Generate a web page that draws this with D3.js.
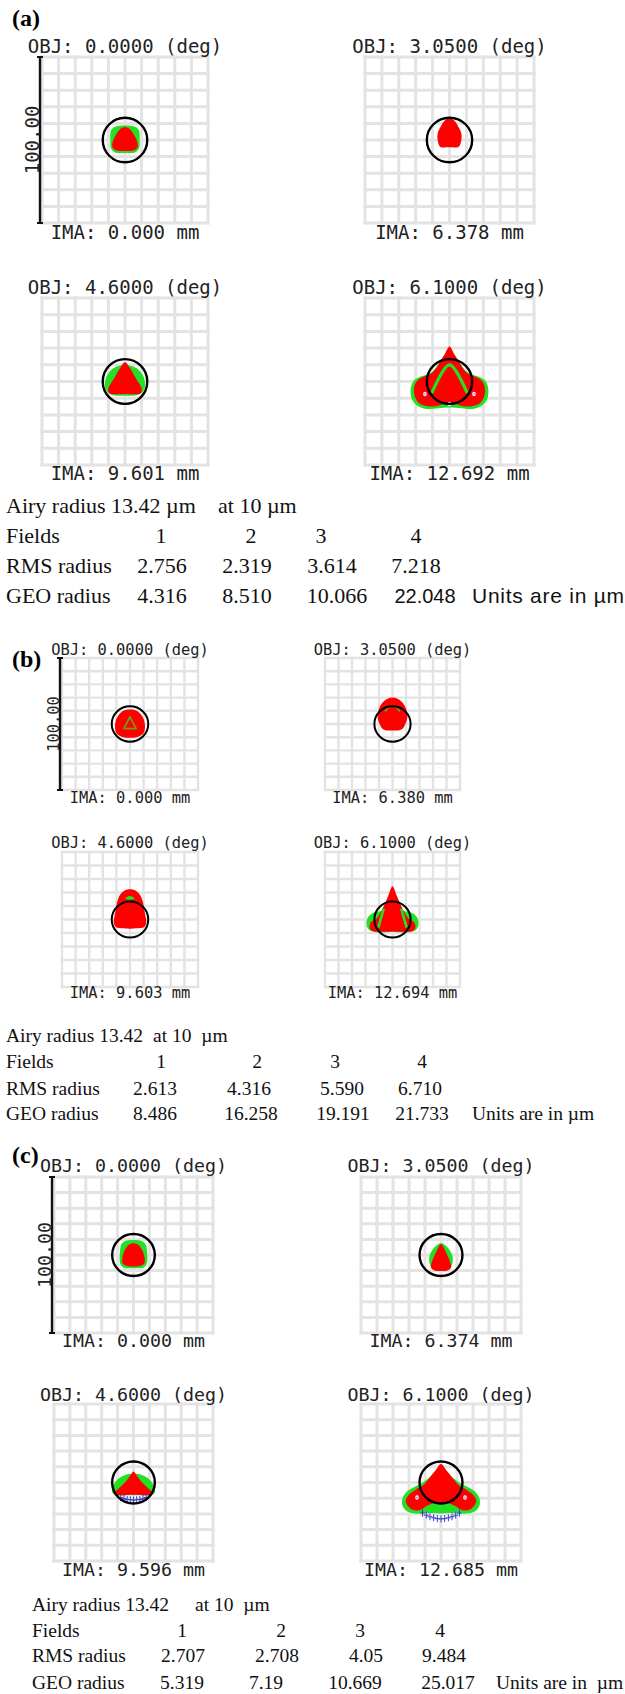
<!DOCTYPE html>
<html><head><meta charset="utf-8">
<script src="https://cdn.jsdelivr.net/npm/d3@7"></script>
<style>html,body{margin:0;padding:0;background:#fff;} svg{display:block;} text{white-space:pre;}</style>
</head><body>
<svg id="chart" width="625" height="1694"></svg>
<script>
// ---------------- data ----------------
const fieldAngles = ["0.0000", "3.0500", "4.6000", "6.1000"];
const imaA = ["0.000", "6.378", "9.601", "12.692"];
const imaB = ["0.000", "6.380", "9.603", "12.694"];
const imaC = ["0.000", "6.374", "9.596", "12.685"];
const airyRadius = 13.42;           // µm
const gridTicks = [-50, -40, -30, -20, -10, 0, 10, 20, 30, 40, 50]; // µm, 100 µm box
const scaleBarLabel = "100.00";
const fieldNumbers = ["1", "2", "3", "4"];
const rmsA = ["2.756", "2.319", "3.614", "7.218"];
const geoA = ["4.316", "8.510", "10.066", "22.048"];
const rmsB = ["2.613", "4.316", "5.590", "6.710"];
const geoB = ["8.486", "16.258", "19.191", "21.733"];
const rmsC = ["2.707", "2.708", "4.05", "9.484"];
const geoC = ["5.319", "7.19", "10.669", "25.017"];

// spot outlines, µm relative to the reference (x right, y up)
const a1Green = [[-6,8],[6,8],[8.5,5.5],[8.8,0],[8.5,-5],[6,-7.5],[0,-7.8],[-6,-7.5],[-8.5,-5],[-8.8,0],[-8.5,5.5]];
const a1Red = [[0,7.8],[3,6.5],[5.5,3],[7.5,-1.5],[7.5,-4.5],[5,-6.3],[0,-6.6],[-5,-6.3],[-7.5,-4.5],[-7.5,-1.5],[-5.5,3],[-3,6.5]];
const a2Red = [[0,13],[2.5,12],[5,8.5],[7,4],[7,0],[5.5,-4],[0,-4.4],[-5.5,-4],[-7,0],[-7,4],[-5,8.5],[-2.5,12]];
const a3Green = [[-5,9],[5,9],[10,5],[12,0],[11.5,-5],[8,-8],[0,-8.5],[-8,-8],[-11.5,-5],[-12,0],[-10,5]];
const a3Red = [[0,11.5],[3,8],[6.5,2],[10,-4],[9.5,-7],[0,-7.5],[-9.5,-7],[-10,-4],[-6.5,2],[-3,8]];
const a4Green = [[0,18],[10,6],[14,4],[18,2.5],[21.5,0],[23,-5],[22.3,-10.5],[19,-14.5],[13,-16.5],[7,-16],[0,-15.5],[-7,-16],[-13,-16.5],[-19,-14.5],[-22.3,-10.5],[-23,-5],[-21.5,0],[-18,2.5],[-14,4],[-10,6]];
const a4Red = [[0,21],[3,16],[6,11],[9,6.5],[12,4],[16,2.5],[19.5,0],[21,-4],[20.5,-9],[18,-13],[13,-14.8],[8,-14.8],[3,-13.5],[0,-14],[-3,-13.5],[-8,-14.8],[-13,-14.8],[-18,-13],[-20.5,-9],[-21,-4],[-19.5,0],[-16,2.5],[-12,4],[-9,6.5],[-6,11],[-3,16]];
const a4Inner = [[-10.5,-7],[0,10],[10.5,-7]];
const a4Whites = [[-14.5,-7.5],[14.5,-7.5],[0,-13.5]];
const b1Red = [[0,11],[5,10],[9.5,5],[11,-1],[10,-7],[5,-10],[0,-10.5],[-5,-10],[-10,-7],[-11,-1],[-9.5,5],[-5,10]];
const b1Tri = [[0,5.5],[4.5,-3.5],[-4.5,-3.5]];
const b2Red = [[0,20],[4,19],[8,15.5],[10.5,10],[11,5],[9.5,0],[7,-4],[0,-5],[-7,-4],[-9.5,0],[-11,5],[-10.5,10],[-8,15.5],[-4,19]];
const b2Arc = [[-5.5,9.5],[-3,12.5],[0,13.5],[3,12.5],[5.5,9.5]];
const b3Red = [[0,22.5],[4,21.5],[7.5,18],[9.5,13],[10.5,7],[11.5,2],[12,-2],[10.5,-5.5],[5,-6.5],[0,-6.8],[-5,-6.5],[-10.5,-5.5],[-12,-2],[-11.5,2],[-10.5,7],[-9.5,13],[-7.5,18],[-4,21.5]];
const b3Green = [[-3.5,15.5],[0,17.5],[3.5,15.5],[0,14.5]];
const b4Green = [[0,8],[10,6],[15,4.7],[18.5,1],[19.2,-4],[17,-8],[12,-9.4],[0,-9.2],[-12,-9.4],[-17,-8],[-19.2,-4],[-18.5,1],[-15,4.7],[-10,6]];
const b4Red = [[0,24.6],[3,18],[6,11],[9,5],[12,0.5],[16,-2],[17,-6],[15,-8.5],[8,-9],[0,-8.8],[-8,-9],[-15,-8.5],[-17,-6],[-16,-2],[-12,0.5],[-9,5],[-6,11],[-3,18]];
const b4StreakL = [[-6.5,8],[-8.5,1],[-10.5,-6]];
const b4StreakR = [[6.5,8],[8.5,1],[10.5,-6]];
const c1Green = [[-5,9],[5,9],[7.5,7],[8.5,2],[8.5,-5],[6.5,-8],[0,-8.5],[-6.5,-8],[-8.5,-5],[-8.5,2],[-7.5,7]];
const c1Red = [[0,7.5],[3,6.5],[5.5,3],[7,-2],[6.8,-5.5],[4,-7],[0,-7.3],[-4,-7],[-6.8,-5.5],[-7,-2],[-5.5,3],[-3,6.5]];
const c2Green = [[0,7.5],[4,5],[7,0],[7.2,-5],[5,-9],[0,-10],[-5,-9],[-7.2,-5],[-7,0],[-4,5]];
const c2Red = [[0,7],[2.5,3],[4.5,-1.5],[6,-5.5],[6.3,-8],[4,-10],[0,-10.3],[-4,-10],[-6.3,-8],[-6,-5.5],[-4.5,-1.5],[-2.5,3]];
const c3Green = [[0,5.5],[6,4.5],[10.5,1.5],[13,-3],[13,-7],[0,-8.2],[-13,-7],[-13,-3],[-10.5,1.5],[-6,4.5]];
const c3Red = [[0,7],[2,4.5],[5,0.5],[9,-3.5],[12,-6.5],[11,-7.8],[0,-7.8],[-11,-7.8],[-12,-6.5],[-9,-3.5],[-5,0.5],[-2,4.5]];
const c3Crosses = [[-8,-9.6],[-6,-10.3],[-4,-10.8],[-2,-11],[0,-11.2],[2,-11],[4,-10.8],[6,-10.3],[8,-9.6]];
const c4Green = [[0,9],[8,2.5],[12,-0.5],[17,-3],[21.5,-6],[24,-10],[24,-15],[21,-18.5],[16,-19.8],[10,-19.5],[5,-19.5],[0,-19.7],[-5,-19.5],[-10,-19.5],[-16,-19.8],[-21,-18.5],[-24,-15],[-24,-10],[-21.5,-6],[-17,-3],[-12,-0.5],[-8,2.5]];
const c4Red = [[0,11.8],[3.6,7.5],[7.8,2.1],[11.6,-2.1],[16.1,-4.7],[20.3,-8.1],[22,-11.8],[20.3,-15.4],[17.2,-17.5],[13,-17.5],[8.9,-15],[3.6,-12.8],[0,-13.2],[-3.6,-12.8],[-8.9,-15],[-13,-17.5],[-17.2,-17.5],[-20.3,-15.4],[-22,-11.8],[-20.3,-8.1],[-16.1,-4.7],[-11.6,-2.1],[-7.8,2.1],[-3.6,7.5]];
const c4Whites = [[-15,-9.6],[15,-9.6]];
const c4Crosses = [[-11.5,-19.5],[-9.2,-20.8],[-6.9,-21.8],[-4.6,-22.5],[-2.3,-23],[0,-23.2],[2.3,-23],[4.6,-22.5],[6.9,-21.8],[9.2,-20.8],[11.5,-19.5]];

// ---------------- layout ----------------
const mono = "'DejaVu Sans Mono', monospace";
const serif = "'Liberation Serif','Times New Roman',serif";
const sans = "'Liberation Sans',Arial,sans-serif";
const RED = "#ff0000", GREEN = "#22e022", OLIVE = "#6f9a14", BLUE = "#3a3ad0", GRID = "#e3e3e3";

const panels = [
  {label: "(a)", labelY: 26, mono: 19, gw: 3, cw: 2.4,
   cols: [[42, 208], [365, 534]], rows: [[57, 223], [298, 465]],
   objY: [53, 294], imaY: [239, 480], ima: imaA,
   spots: [{green: a1Green, red: a1Red}, {red: a2Red},
           {green: a3Green, red: a3Red},
           {green: a4Green, red: a4Red, lines: [a4Inner], lineW: 3.2, whites: a4Whites}]},
  {label: "(b)", labelY: 667, mono: 15.4, gw: 2.4, cw: 2,
   cols: [[62, 198], [325, 460]], rows: [[658, 790], [852, 987]],
   objY: [655, 848], imaY: [803, 998], ima: imaB,
   spots: [{red: b1Red, closed: [b1Tri]}, {red: b2Red, lines: [b2Arc], lineW: 1.8, lineColor: OLIVE},
           {red: b3Red, green2: b3Green},
           {green: b4Green, red: b4Red, lines: [b4StreakL, b4StreakR], lineW: 2.6}]},
  {label: "(c)", labelY: 1163, mono: 18.3, gw: 3, cw: 2.4,
   cols: [[54, 213], [361, 521]], rows: [[1177, 1333], [1404, 1561]],
   objY: [1172, 1401], imaY: [1347, 1576], ima: imaC,
   spots: [{green: c1Green, red: c1Red}, {green: c2Green, red: c2Red},
           {green: c3Green, red: c3Red, crosses: c3Crosses},
           {green: c4Green, red: c4Red, whites: c4Whites, crosses: c4Crosses}]}
];

const tables = [
  {y: [513, 543, 573, 603], font: 22, x0: 6, airy: "Airy radius 13.42 µm", at: "at 10 µm", atX: 218,
   fx: [161, 251, 321, 416], rx: [162, 247, 332, 416], gx: [162, 247, 337, 425],
   rms: rmsA, geo: geoA, units: "Units are in µm", ux: 472, uw: 152, sansTail: true},
  {y: [1042, 1068, 1095, 1120], font: 19.5, x0: 6, airy: "Airy radius 13.42", at: "at 10  µm", atX: 153,
   fx: [161, 257, 335, 422], rx: [155, 249, 342, 420], gx: [155, 251, 343, 422],
   rms: rmsB, geo: geoB, units: "Units are in µm", ux: 472},
  {y: [1611, 1637, 1662, 1689], font: 19.5, x0: 32, airy: "Airy radius 13.42", at: "at 10  µm", atX: 195,
   fx: [182, 281, 360, 440], rx: [183, 277, 366, 444], gx: [182, 266, 355, 448],
   rms: rmsC, geo: geoC, units: "Units are in  µm", ux: 496}
];

// ---------------- drawing ----------------
const svg = d3.select("#chart");
svg.append("rect").attr("width", 625).attr("height", 1694).attr("fill", "#fff");

function drawPlot(p, i) {
  const c = p.cols[i % 2], r = p.rows[Math.floor(i / 2)];
  const xs = d3.scaleLinear().domain([-50, 50]).range(c);
  const ys = d3.scaleLinear().domain([-50, 50]).range([r[1], r[0]]);
  const g = svg.append("g");
  // grid
  g.selectAll("line.v").data(gridTicks).join("line").attr("class", "v")
    .attr("x1", d => xs(d)).attr("x2", d => xs(d)).attr("y1", ys(-50)).attr("y2", ys(50))
    .attr("stroke", GRID).attr("stroke-width", p.gw).attr("stroke-linecap", "square");
  g.selectAll("line.h").data(gridTicks).join("line").attr("class", "h")
    .attr("y1", d => ys(d)).attr("y2", d => ys(d)).attr("x1", xs(-50)).attr("x2", xs(50))
    .attr("stroke", GRID).attr("stroke-width", p.gw).attr("stroke-linecap", "square");

  const s = p.spots[i];
  const closed = d3.line().x(d => xs(d[0])).y(d => ys(d[1])).curve(d3.curveCatmullRomClosed.alpha(0.5));
  const open = d3.line().x(d => xs(d[0])).y(d => ys(d[1])).curve(d3.curveCatmullRom.alpha(0.5));
  const linear = d3.line().x(d => xs(d[0])).y(d => ys(d[1])).curve(d3.curveLinearClosed);
  if (s.green) g.append("path").attr("d", closed(s.green)).attr("fill", GREEN);
  if (s.red) g.append("path").attr("d", closed(s.red)).attr("fill", RED);
  if (s.green2) g.append("path").attr("d", closed(s.green2)).attr("fill", GREEN);
  (s.lines || []).forEach(l => g.append("path").attr("d", open(l)).attr("fill", "none")
    .attr("stroke", s.lineColor || GREEN).attr("stroke-width", s.lineW || 2).attr("stroke-linejoin", "round"));
  (s.closed || []).forEach(l => g.append("path").attr("d", linear(l)).attr("fill", "none")
    .attr("stroke", OLIVE).attr("stroke-width", 1.8).attr("stroke-linejoin", "round"));
  (s.whites || []).forEach(w => {
    g.append("ellipse").attr("cx", xs(w[0])).attr("cy", ys(w[1])).attr("rx", 1.8).attr("ry", 2.3).attr("fill", "#fff");
    g.append("path").attr("d", `M${xs(w[0]) - 1.2},${ys(w[1])}H${xs(w[0]) + 1.2}M${xs(w[0])},${ys(w[1]) - 1.5}V${ys(w[1]) + 1.5}`)
      .attr("stroke", BLUE).attr("stroke-width", 0.6).attr("opacity", 0.7);
  });
  (s.crosses || []).forEach(cr => {
    const cx = xs(cr[0]), cy = ys(cr[1]);
    g.append("path").attr("d", `M${cx - 2.4},${cy}H${cx + 2.4}M${cx},${cy - 3.5}V${cy + 3.5}`)
      .attr("stroke", BLUE).attr("stroke-width", 1);
  });
  // Airy circle
  g.append("ellipse").attr("cx", xs(0)).attr("cy", ys(0))
    .attr("rx", xs(airyRadius) - xs(0)).attr("ry", ys(0) - ys(airyRadius))
    .attr("fill", "none").attr("stroke", "#000").attr("stroke-width", p.cw);

  // labels
  const row = Math.floor(i / 2);
  g.append("text").attr("x", xs(0)).attr("y", p.objY[row]).attr("text-anchor", "middle")
    .attr("font-family", mono).attr("font-size", p.mono).attr("fill", "#222")
    .text(`OBJ: ${fieldAngles[i]} (deg)`);
  g.append("text").attr("x", xs(0)).attr("y", p.imaY[row]).attr("text-anchor", "middle")
    .attr("font-family", mono).attr("font-size", p.mono).attr("fill", "#222")
    .text(`IMA: ${p.ima[i]} mm`);

  // scale bar on the first plot
  if (i === 0) {
    const ax = c[0] - 2;
    g.append("line").attr("x1", ax).attr("x2", ax).attr("y1", ys(50)).attr("y2", ys(-50))
      .attr("stroke", "#111").attr("stroke-width", 2.4);
    [50, -50].forEach(t => g.append("line").attr("x1", ax - 3).attr("x2", ax + 3)
      .attr("y1", ys(t)).attr("y2", ys(t)).attr("stroke", "#111").attr("stroke-width", 2));
    g.append("text").attr("transform", `translate(${ax - 1.5},${ys(0)}) rotate(-90)`)
      .attr("text-anchor", "middle").attr("font-family", mono).attr("font-size", p.mono)
      .attr("fill", "#222").text(scaleBarLabel);
  }
}

panels.forEach(p => {
  svg.append("text").attr("x", 12).attr("y", p.labelY).attr("font-family", serif)
    .attr("font-weight", "bold").attr("font-size", 24).attr("fill", "#000").text(p.label);
  for (let i = 0; i < 4; i++) drawPlot(p, i);
});

tables.forEach(t => {
  const g = svg.append("g").attr("font-family", serif).attr("font-size", t.font).attr("fill", "#111");
  g.append("text").attr("x", t.x0).attr("y", t.y[0]).text(t.airy);
  g.append("text").attr("x", t.atX).attr("y", t.y[0]).text(t.at);
  g.append("text").attr("x", t.x0).attr("y", t.y[1]).text("Fields");
  g.append("text").attr("x", t.x0).attr("y", t.y[2]).text("RMS radius");
  g.append("text").attr("x", t.x0).attr("y", t.y[3]).text("GEO radius");
  fieldNumbers.forEach((f, k) => g.append("text").attr("x", t.fx[k]).attr("y", t.y[1]).attr("text-anchor", "middle").text(f));
  t.rms.forEach((v, k) => g.append("text").attr("x", t.rx[k]).attr("y", t.y[2]).attr("text-anchor", "middle").text(v));
  t.geo.forEach((v, k) => {
    const last = t.sansTail && k === 3;
    g.append("text").attr("x", t.gx[k]).attr("y", t.y[3]).attr("text-anchor", "middle")
      .attr("font-family", last ? sans : null).attr("font-size", last ? 20 : null).text(v);
  });
  const u = g.append("text").attr("x", t.ux).attr("y", t.y[3]).text(t.units);
  if (t.sansTail) u.attr("font-family", sans).attr("font-size", 21).attr("textLength", t.uw).attr("lengthAdjust", "spacing");
});
</script>
</body></html>
